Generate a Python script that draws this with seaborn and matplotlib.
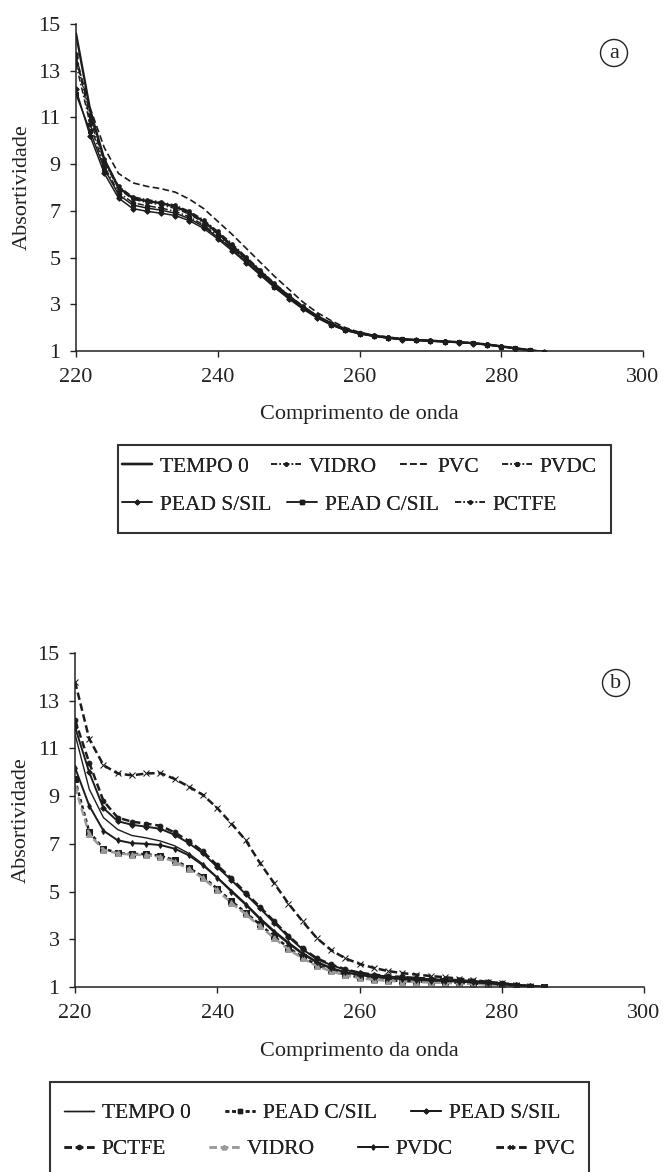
import numpy as np
import pandas as pd
import matplotlib
matplotlib.use("Agg")
import matplotlib.pyplot as plt
from matplotlib.lines import Line2D
from matplotlib.patches import Rectangle
import seaborn as sns

# ---------------- data ----------------
wavelength = list(range(220, 287, 2))

# panel (a)
a_tempo0 = [14.6, 11.3, 9.2, 8.0, 7.55, 7.42, 7.33, 7.18, 6.92, 6.55, 6.05, 5.52, 4.97, 4.42, 3.86, 3.36, 2.9, 2.5, 2.18, 1.93, 1.77, 1.66, 1.58, 1.51, 1.47, 1.44, 1.41, 1.38, 1.34, 1.28, 1.2, 1.12, 1.04, 0.96]
a_vidro = [13.6, 10.9, 9.1, 7.95, 7.5, 7.36, 7.26, 7.1, 6.86, 6.5, 6.0, 5.48, 4.93, 4.38, 3.83, 3.33, 2.88, 2.48, 2.17, 1.92, 1.76, 1.66, 1.58, 1.51, 1.47, 1.44, 1.41, 1.38, 1.34, 1.28, 1.2, 1.12, 1.03, 0.96]
a_pvc = [13.5, 11.4, 9.7, 8.6, 8.2, 8.05, 7.95, 7.8, 7.5, 7.1, 6.55, 6.0, 5.4, 4.8, 4.2, 3.65, 3.1, 2.65, 2.3, 2.0, 1.8, 1.68, 1.6, 1.52, 1.47, 1.44, 1.41, 1.38, 1.34, 1.28, 1.2, 1.12, 1.04, 0.97]
a_pvdc = [13.3, 10.7, 8.9, 7.8, 7.35, 7.22, 7.12, 6.98, 6.74, 6.4, 5.92, 5.42, 4.88, 4.33, 3.79, 3.3, 2.85, 2.45, 2.14, 1.9, 1.75, 1.64, 1.56, 1.5, 1.46, 1.43, 1.4, 1.37, 1.33, 1.27, 1.19, 1.11, 1.03, 0.96]
a_pead_s = [12.2, 10.2, 8.6, 7.55, 7.1, 6.98, 6.9, 6.8, 6.58, 6.25, 5.8, 5.3, 4.78, 4.25, 3.72, 3.24, 2.8, 2.42, 2.11, 1.88, 1.73, 1.63, 1.55, 1.49, 1.45, 1.42, 1.39, 1.36, 1.32, 1.26, 1.18, 1.1, 1.02, 0.95]
a_pead_c = [12.0, 10.4, 8.8, 7.7, 7.25, 7.12, 7.03, 6.9, 6.67, 6.33, 5.87, 5.37, 4.84, 4.3, 3.76, 3.27, 2.83, 2.44, 2.13, 1.89, 1.74, 1.64, 1.56, 1.5, 1.46, 1.43, 1.4, 1.37, 1.33, 1.27, 1.19, 1.11, 1.03, 0.96]
a_pctfe = [13.7, 11.1, 9.2, 8.05, 7.6, 7.48, 7.38, 7.24, 6.98, 6.62, 6.12, 5.6, 5.03, 4.47, 3.9, 3.39, 2.93, 2.52, 2.2, 1.95, 1.78, 1.67, 1.59, 1.52, 1.48, 1.45, 1.42, 1.39, 1.35, 1.29, 1.21, 1.13, 1.04, 0.97]

# panel (b)
b_tempo0 = [11.6, 9.3, 8.1, 7.6, 7.35, 7.25, 7.12, 6.92, 6.6, 6.15, 5.6, 5.05, 4.5, 3.9, 3.36, 2.88, 2.43, 2.07, 1.81, 1.63, 1.52, 1.44, 1.38, 1.34, 1.31, 1.28, 1.26, 1.23, 1.2, 1.16, 1.12, 1.08, 1.03, 1.0]
b_pead_c = [9.7, 7.5, 6.8, 6.62, 6.58, 6.57, 6.5, 6.32, 6.0, 5.62, 5.12, 4.6, 4.12, 3.62, 3.12, 2.65, 2.25, 1.93, 1.7, 1.52, 1.4, 1.33, 1.28, 1.25, 1.23, 1.21, 1.19, 1.17, 1.15, 1.12, 1.09, 1.06, 1.02, 1.0]
b_pead_s = [11.9, 10.0, 8.5, 7.95, 7.8, 7.72, 7.63, 7.38, 7.03, 6.6, 6.03, 5.48, 4.89, 4.3, 3.7, 3.1, 2.58, 2.17, 1.92, 1.72, 1.58, 1.5, 1.44, 1.4, 1.36, 1.33, 1.3, 1.27, 1.23, 1.19, 1.14, 1.09, 1.04, 1.0]
b_pctfe = [12.2, 10.4, 8.8, 8.1, 7.93, 7.85, 7.76, 7.48, 7.12, 6.68, 6.1, 5.55, 4.95, 4.36, 3.75, 3.15, 2.62, 2.2, 1.95, 1.74, 1.6, 1.52, 1.46, 1.42, 1.38, 1.35, 1.32, 1.28, 1.24, 1.2, 1.15, 1.09, 1.04, 1.0]
b_vidro = [9.4, 7.4, 6.75, 6.6, 6.55, 6.53, 6.45, 6.26, 5.94, 5.56, 5.05, 4.52, 4.05, 3.55, 3.05, 2.58, 2.2, 1.88, 1.66, 1.49, 1.37, 1.31, 1.26, 1.23, 1.21, 1.19, 1.17, 1.15, 1.13, 1.11, 1.08, 1.05, 1.02, 1.0]
b_pvdc = [10.2, 8.6, 7.55, 7.15, 7.03, 7.0, 6.95, 6.8, 6.52, 6.1, 5.58, 5.0, 4.45, 3.85, 3.3, 2.83, 2.38, 2.03, 1.78, 1.61, 1.5, 1.42, 1.37, 1.33, 1.3, 1.27, 1.25, 1.22, 1.19, 1.15, 1.11, 1.07, 1.03, 1.0]
b_pvc = [13.8, 11.4, 10.3, 9.95, 9.87, 9.95, 9.97, 9.72, 9.4, 9.05, 8.5, 7.85, 7.15, 6.2, 5.35, 4.5, 3.75, 3.05, 2.55, 2.2, 1.97, 1.8, 1.67, 1.58, 1.52, 1.46, 1.41, 1.35, 1.29, 1.22, 1.16, 1.1, 1.04, 1.0]

x_ticks = [220, 240, 260, 280, 300]
y_ticks = [1, 3, 5, 7, 9, 11, 13, 15]
y_label = "Absortividade"
x_label_a = "Comprimento de onda"
x_label_b = "Comprimento da onda"

# ---------------- style ----------------
sns.set_theme(style="ticks")
plt.rcParams["font.family"] = ["Liberation Serif", "DejaVu Serif"]
for key in ("axes.edgecolor", "xtick.color", "ytick.color", "text.color", "axes.labelcolor"):
    plt.rcParams[key] = "#222222"

K = "#1c1c1c"
G = "#9a9a9a"
W, H = 664, 1172

fig = plt.figure(figsize=(W / 100, H / 100), dpi=100)
ax_a = fig.add_axes([76 / W, 1 - 351 / H, 567 / W, 327 / H])
ax_b = fig.add_axes([75 / W, 1 - 987 / H, 569 / W, 334 / H])

def draw(ax, values, label, color, ls, marker, lw, ms):
    df = pd.DataFrame({"w": wavelength, "v": values})
    sns.lineplot(data=df, x="w", y="v", ax=ax, color=color, linestyle=ls,
                 marker=marker, markersize=ms, linewidth=lw,
                 markeredgecolor=color, markerfacecolor=color, label=label,
                 legend=False)
    return Line2D([], [], color=color, linestyle=ls, marker=marker,
                  markersize=ms * 0.85, linewidth=lw, markeredgecolor=color,
                  markerfacecolor=color)

DD = (0, (4, 1.5, 1, 1.5))
specs_a = [
    (a_tempo0, "TEMPO 0", K, "-", None, 1.7, 0),
    (a_vidro, "VIDRO", K, DD, "o", 1.1, 2.6),
    (a_pvc, "PVC", K, (0, (4, 2)), None, 1.2, 0),
    (a_pvdc, "PVDC", K, DD, "o", 1.1, 3.2),
    (a_pead_s, "PEAD S/SIL", K, "-", "D", 1.1, 2.8),
    (a_pead_c, "PEAD C/SIL", K, "-", "s", 1.1, 3.0),
    (a_pctfe, "PCTFE", K, DD, "o", 1.1, 2.6),
]
ha = {}
for vals, lab, col, ls, mk, lw, ms in specs_a:
    ha[lab] = draw(ax_a, vals, lab, col, ls, mk, lw, ms)

specs_b = [
    (b_tempo0, "TEMPO 0", K, "-", None, 1.0, 0),
    (b_pead_c, "PEAD C/SIL", K, (0, (1.5, 1.2)), "s", 1.8, 3.8),
    (b_pead_s, "PEAD S/SIL", K, "-", "D", 1.4, 2.8),
    (b_pctfe, "PCTFE", K, (0, (3, 1.5)), "o", 1.8, 3.4),
    (b_vidro, "VIDRO", G, (0, (3, 1.5)), "^", 1.8, 3.8),
    (b_pvdc, "PVDC", K, "-", "d", 1.4, 3.0),
    (b_pvc, "PVC", K, (0, (3, 1.5)), "x", 1.8, 3.8),
]
hb = {}
for vals, lab, col, ls, mk, lw, ms in specs_b:
    hb[lab] = draw(ax_b, vals, lab, col, ls, mk, lw, ms)

for ax, xl in ((ax_a, x_label_a), (ax_b, x_label_b)):
    ax.set_xlim(220, 300)
    ax.set_ylim(1, 15)
    ax.set_xticks(x_ticks)
    ax.set_yticks(y_ticks)
    ax.set_xticklabels([str(t) for t in x_ticks])
    ax.set_yticklabels([str(t) for t in y_ticks])
    sns.despine(ax=ax)
    ax.spines["left"].set_linewidth(1.1)
    ax.spines["bottom"].set_linewidth(1.1)
    ax.tick_params(axis="both", labelsize=16, length=4, width=1.0, direction="out")
    ax.tick_params(axis="x", pad=8)
    ax.tick_params(axis="y", pad=7)
    ax.set_xlabel(xl, fontsize=16)
    ax.set_ylabel(y_label, fontsize=16)
    ax.grid(False)
    ax.set_facecolor("white")

ax_a.xaxis.set_label_coords(0.5, -0.165)
ax_a.yaxis.set_label_coords(-0.078, 0.5)
ax_b.xaxis.set_label_coords(0.5, -0.165)
ax_b.yaxis.set_label_coords(-0.078, 0.5)

for tag, (px, py) in (("a", (614, 53)), ("b", (616, 683))):
    fig.text(px / W, 1 - py / H, tag, fontsize=16, ha="center", va="center",
             bbox=dict(boxstyle="circle,pad=0.18", fc="white", ec="#222222", lw=1.0))

# legends: one legend per row, inside a manually drawn frame
def row_legend(names, handles, x, y, colsp):
    leg = fig.legend([handles[n] for n in names], names, loc="center left",
                     bbox_to_anchor=(x / W, 1 - y / H), ncol=len(names),
                     fontsize=15.5, frameon=False, handlelength=1.4,
                     handletextpad=0.35, columnspacing=colsp, borderpad=0,
                     borderaxespad=0)
    fig.add_artist(leg)
    return leg

legs_a = [
    row_legend(["TEMPO 0", "VIDRO", "PVC", "PVDC"], ha, 122, 467, 1.05),
    row_legend(["PEAD S/SIL", "PEAD C/SIL", "PCTFE"], ha, 122, 505, 0.75),
]
legs_b = [
    row_legend(["TEMPO 0", "PEAD C/SIL", "PEAD S/SIL"], hb, 64, 1113, 1.6),
    row_legend(["PCTFE", "VIDRO", "PVDC", "PVC"], hb, 64, 1149, 2.0),
]

fig.canvas.draw()
renderer = fig.canvas.get_renderer()

def frame(legs, left, top, bottom):
    right = max(l.get_window_extent(renderer).x1 for l in legs) + 14
    rect = Rectangle((left / W, 1 - bottom / H), (right - left) / W, (bottom - top) / H,
                     transform=fig.transFigure, fill=False, ec="#333333", lw=1.5,
                     clip_on=False)
    fig.add_artist(rect)

frame(legs_a, 118, 445, 533)
frame(legs_b, 50, 1082, 1190)

fig.savefig("out.png", dpi=100, facecolor="white")
